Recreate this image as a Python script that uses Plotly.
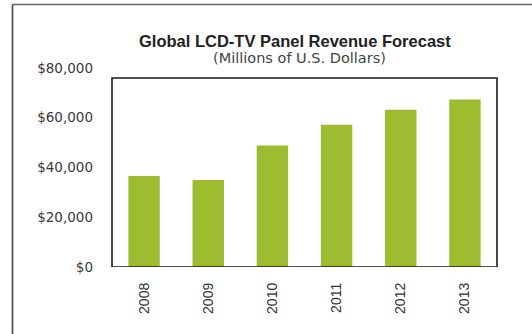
import plotly.graph_objects as go

# Revenue forecast data (millions of U.S. dollars)
years = ["2008", "2009", "2010", "2011", "2012", "2013"]
revenue = [36600, 35000, 48800, 57200, 63200, 67300]
tick_values = [0, 20000, 40000, 60000, 80000]
tick_labels = ["$0", "$20,000", "$40,000", "$60,000", "$80,000"]

W, H = 532, 334
L, R, T, B = 112, 35, 68, 67
pw, ph = W - L - R, H - T - B


def px_x(x):
    return (x - L) / pw


def px_y(y):
    return (H - B - y) / ph


fig = go.Figure(
    go.Bar(
        x=years,
        y=revenue,
        marker=dict(color="#9dbc30", line=dict(width=0)),
        width=0.49,
    )
)

shapes = [
    # plot frame (slightly shorter than the axis range)
    dict(type="rect", xref="paper", yref="y", x0=0, x1=1, y0=0, y1=76000,
         line=dict(color="#1a1a1a", width=1.6), layer="above"),
    # outer chart border, top and left edges
    dict(type="line", xref="paper", yref="paper",
         x0=px_x(12.5), x1=px_x(545), y0=px_y(4.5), y1=px_y(4.5),
         line=dict(color="#666666", width=1.6)),
    dict(type="line", xref="paper", yref="paper",
         x0=px_x(12.5), x1=px_x(12.5), y0=px_y(4.5), y1=px_y(345),
         line=dict(color="#444444", width=1.6)),
]

annotations = [
    dict(text="<b>Global LCD-TV Panel Revenue Forecast</b>", xref="paper", yref="paper",
         x=px_x(295), y=px_y(41), showarrow=False, xanchor="center", yanchor="middle",
         font=dict(family="Liberation Sans, Arial", size=16.5, color="#222222")),
    dict(text="(Millions of U.S. Dollars)", xref="paper", yref="paper",
         x=px_x(299), y=px_y(58), showarrow=False, xanchor="center", yanchor="middle",
         font=dict(family="DejaVu Sans", size=14.5, color="#444444")),
]

fig.update_layout(
    width=W, height=H,
    margin=dict(l=L, r=R, t=T, b=B, pad=0),
    paper_bgcolor="white", plot_bgcolor="white",
    showlegend=False,
    bargap=0.51,
    shapes=shapes,
    annotations=annotations,
    xaxis=dict(
        type="category", showgrid=False, zeroline=False, showline=False,
        ticks="", tickangle=-90, ticklabelstandoff=12,
        tickfont=dict(family="Liberation Sans, Arial", size=14, color="#333333"),
    ),
    yaxis=dict(
        range=[0, 80000], tickvals=tick_values, ticktext=tick_labels,
        showgrid=False, zeroline=False, showline=False, ticks="",
        ticklabelstandoff=18,
        tickfont=dict(family="DejaVu Sans", size=13.5, color="#3a3a3a"),
    ),
)

fig.write_html("out.html")
